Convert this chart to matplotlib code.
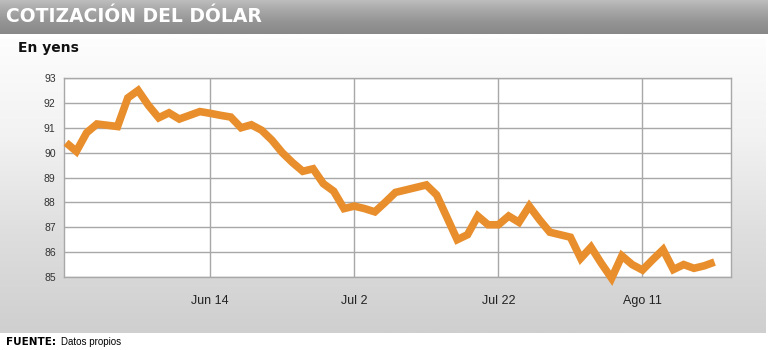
import numpy as np
import matplotlib
matplotlib.use('Agg')
import matplotlib.pyplot as plt

# Dollar price in yen, one value per trading day
values = [
    90.4, 90.05, 90.8, 91.15, 91.1, 91.05, 92.2, 92.5, 91.9, 91.4,
    91.6, 91.35, 91.5, 91.65, 91.58, 91.5, 91.43, 91.0, 91.12, 90.9,
    90.5, 90.0, 89.6, 89.25, 89.35, 88.75, 88.45, 87.75, 87.85, 87.75,
    87.62, 88.0, 88.4, 88.5, 88.6, 88.7, 88.3, 87.4, 86.5, 86.7,
    87.45, 87.1, 87.1, 87.45, 87.2, 87.85, 87.3, 86.8, 86.7, 86.6,
    85.75, 86.2, 85.55, 84.95, 85.85, 85.5, 85.28, 85.7, 86.1, 85.3,
    85.5, 85.35, 85.45, 85.6,
]
tick_days = [14, 28, 42, 56]
tick_labels = ['Jun 14', 'Jul 2', 'Jul 22', 'Ago 11']
y_ticks = list(range(85, 94))

title = 'COTIZACIÓN DEL DÓLAR'
subtitle = 'En yens'
source_bold = 'FUENTE:'
source_text = 'Datos propios'

W, H = 768, 350
fig = plt.figure(figsize=(W / 100, H / 100), dpi=100)
fig.patch.set_facecolor('white')

grad = np.linspace(0.0, 1.0, 256).reshape(-1, 1)  # 0 at bottom, 1 at top

# background panel: light at top, grey at bottom
bg = fig.add_axes([0, 17 / H, 766 / W, 295 / H], zorder=0)
panel_cmap = matplotlib.colors.LinearSegmentedColormap.from_list(
    'panel', ['#cfcfcf', '#dedede', '#f2f2f2', '#fdfdfd'])
bg.imshow(grad, aspect='auto', cmap=panel_cmap, extent=[0, 1, 0, 1], origin='lower')
bg.axis('off')

# title bar
tb = fig.add_axes([0, 1 - 34 / H, 1, 34 / H], zorder=1)
bar_cmap = matplotlib.colors.LinearSegmentedColormap.from_list(
    'bar', ['#888888', '#939393', '#a6a6a6', '#bdbdbd'])
tb.imshow(grad, aspect='auto', cmap=bar_cmap, extent=[0, 1, 0, 1], origin='lower')
tb.axis('off')
tb.text(0.008, 0.5, title, color='white', fontsize=13.5, fontweight='bold',
        family='DejaVu Sans', va='center', ha='left', transform=tb.transAxes)

fig.text(18 / W, 1 - 48 / H, subtitle, fontsize=10, fontweight='bold',
         family='DejaVu Sans', va='center', ha='left', color='#111111')

narrow = ['Liberation Sans Narrow', 'Liberation Sans', 'DejaVu Sans']

ax = fig.add_axes([64 / W, 1 - 277 / H, 667 / W, 199 / H], zorder=2)
ax.set_facecolor('white')
x = np.arange(len(values))
ax.plot(x, values, color='#e88e2c', linewidth=5.5, solid_joinstyle='miter',
        solid_capstyle='butt', clip_on=False, zorder=3)
ax.set_xlim(-0.2, 64.6)
ax.set_ylim(85, 93)
ax.set_yticks(y_ticks)
ax.set_yticklabels([str(v) for v in y_ticks], family=narrow, fontsize=7.5, color='#333333')
ax.set_xticks(tick_days)
ax.set_xticklabels(tick_labels, family=narrow, fontsize=9, color='#222222')
ax.tick_params(axis='both', length=0)
ax.tick_params(axis='y', pad=6)
ax.tick_params(axis='x', pad=13)
ax.grid(True, color='#a8a8a8', linewidth=1.0)
ax.set_axisbelow(True)
for s in ax.spines.values():
    s.set_color('#a8a8a8')
    s.set_linewidth(1.0)

fig.text(6 / W, 1 - 342 / H, source_bold, fontsize=7.5, fontweight='bold',
         family='DejaVu Sans', va='center', ha='left')
fig.text(61 / W, 1 - 342 / H, source_text, fontsize=7, family=narrow,
         va='center', ha='left')

fig.savefig('out.png', dpi=100, facecolor='white')
